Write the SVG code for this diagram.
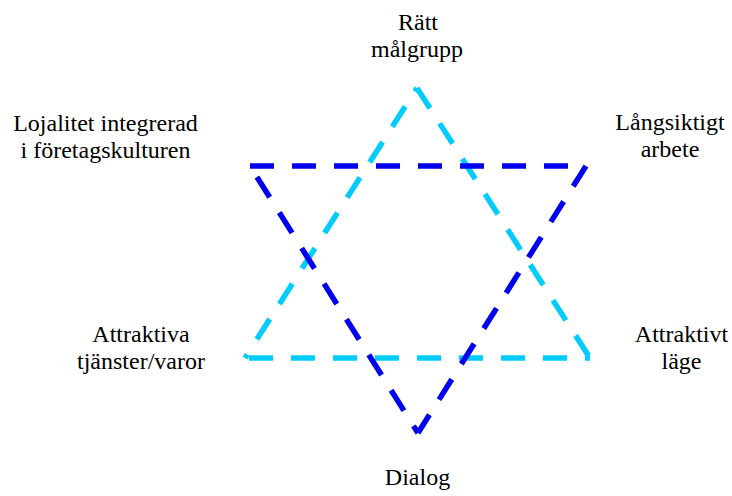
<svg xmlns="http://www.w3.org/2000/svg" width="732" height="496" viewBox="0 0 732 496">
<style>
.lbl{font-family:"Liberation Serif","Times New Roman",serif;font-size:24px;fill:#000;text-anchor:middle}
.tri{fill:none;stroke-width:5.5;stroke-dasharray:24 18}
.light{stroke:#00CCFF}
.dark{stroke:#0000EE}
</style>
<rect width="732" height="496" fill="#fff"/>
<g id="connectors">
<path class="tri light" d="M417,88 L245,358" stroke-dashoffset="20"/>
<path class="tri light" d="M417,88 L590,358"/>
<path class="tri light" d="M245,358 L590,358" stroke-dashoffset="38"/>
<path class="tri dark" d="M250,166 L586,166"/>
<path class="tri dark" d="M586,166 L418,433"/>
<path class="tri dark" d="M250,166 L418,433" stroke-dashoffset="29"/>
</g>
<g id="n-ratt"><text class="lbl" x="418" y="30">Rätt</text><text class="lbl" x="417" y="57">målgrupp</text></g>
<g id="n-lojalitet"><text class="lbl" x="105.5" y="131">Lojalitet integrerad</text><text class="lbl" x="105.5" y="158">i företagskulturen</text></g>
<g id="n-langsiktigt"><text class="lbl" x="670" y="130">Långsiktigt</text><text class="lbl" x="670" y="157">arbete</text></g>
<g id="n-attraktiva"><text class="lbl" x="141" y="342">Attraktiva</text><text class="lbl" x="141" y="369">tjänster/varor</text></g>
<g id="n-attraktivt"><text class="lbl" x="681.5" y="342">Attraktivt</text><text class="lbl" x="681.5" y="369">läge</text></g>
<g id="n-dialog"><text class="lbl" x="417.5" y="485">Dialog</text></g>
</svg>
